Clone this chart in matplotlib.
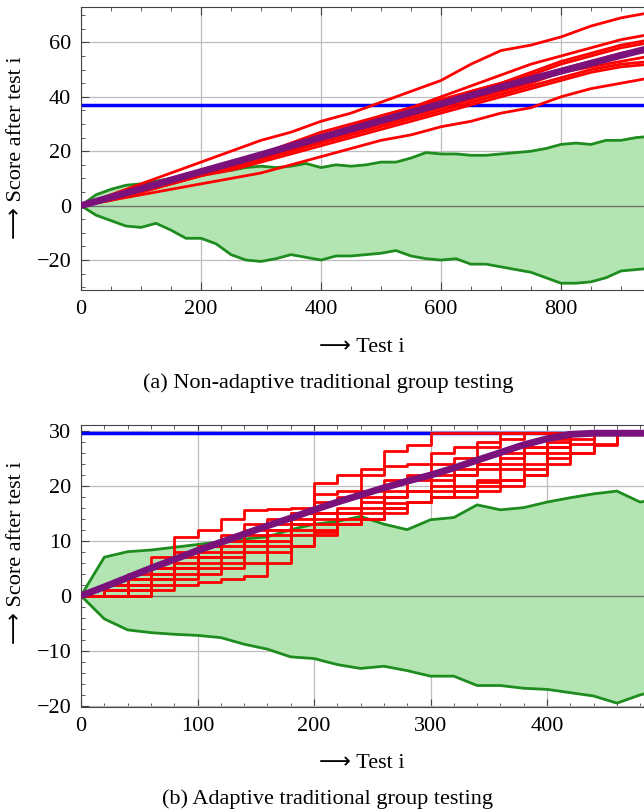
import matplotlib
matplotlib.use("Agg")
import matplotlib.pyplot as plt
from matplotlib.ticker import MultipleLocator, FixedLocator
import numpy as np

plt.rcParams['font.family'] = ['Liberation Serif', 'DejaVu Sans']
plt.rcParams['font.size'] = 16

# ---------------- (a) non-adaptive ----------------
xa = [0, 50, 100, 150, 200, 250, 300, 350, 400, 450, 500, 550, 600, 650, 700, 750, 800, 850, 900, 950]
reds_a = [
    [0, 4, 8, 12, 16, 20, 24, 27, 31, 34, 38, 42, 46, 52, 57, 59, 62, 66, 69, 71],
    [0, 3, 7, 10, 13, 16, 19, 23, 27, 30, 33, 36, 40, 44, 48, 52, 55, 58, 61, 63],
    [0, 3, 6, 10, 13, 16, 19, 22, 26, 29, 33, 36, 39, 42, 45, 49, 53, 56, 59, 61],
    [0, 3, 6, 9, 12, 15, 18, 22, 25, 28, 31, 35, 38, 42, 45, 48, 52, 55, 58, 60],
    [0, 3, 6, 9, 12, 15, 18, 21, 24, 28, 31, 34, 37, 40, 44, 47, 50, 53, 56, 58],
    [0, 3, 6, 9, 12, 14, 17, 20, 24, 27, 30, 33, 37, 40, 43, 46, 50, 53, 55, 57],
    [0, 3, 5, 8, 11, 14, 17, 21, 24, 27, 30, 33, 36, 39, 42, 45, 49, 51, 53, 55],
    [0, 2, 5, 8, 11, 14, 17, 20, 23, 26, 29, 32, 35, 38, 41, 44, 47, 50, 52, 53],
    [0, 2, 5, 8, 11, 13, 16, 19, 22, 25, 28, 31, 34, 37, 40, 43, 46, 49, 51, 52],
    [0, 2, 4, 6, 8, 10, 12, 15, 18, 21, 24, 26, 29, 31, 34, 36, 40, 43, 45, 47],
]
mean_a = [0, 3.1, 6.2, 9.4, 12.5, 15.6, 18.7, 21.9, 25, 28.1, 31.2, 34.3, 37.4,
          40.5, 43.6, 46.5, 49.4, 52.3, 55.2, 58]
xa_env = [0, 25, 50, 75, 100, 125, 150, 175, 200, 225, 250, 275, 300, 325, 350, 375,
          400, 425, 450, 475, 500, 525, 550, 575, 600, 625, 650, 675, 700, 725, 750,
          775, 800, 825, 850, 875, 900, 925, 950]
upper_a = [0, 4, 6, 7.5, 8, 9, 10, 11, 12, 12.5, 13, 14, 14.5, 14, 14.5, 15.5, 14, 15,
           14.5, 15, 16, 16, 17.5, 19.5, 19, 19, 18.5, 18.5, 19, 19.5, 20, 21, 22.5,
           23, 22.5, 24, 24, 25, 25.5]
lower_a = [0, -3.5, -5.5, -7.5, -8, -6.5, -9, -12, -12, -14, -18, -20, -20.5, -19.5,
           -18, -19, -20, -18.5, -18.5, -18, -17.5, -16.5, -18.5, -19.5, -20, -19.5,
           -21.5, -21.5, -22.5, -23.5, -24.5, -26.5, -28.5, -28.5, -28, -26.5, -24,
           -23.5, -23]
threshold_a = 37

# ---------------- (b) adaptive ----------------
xb = [0, 20, 40, 60, 80, 100, 120, 140, 160, 180, 200, 220, 240, 260, 280, 300, 320,
      340, 360, 380, 400, 420, 440, 460, 480, 500]
C = 29.5
reds_b = [
    [0, 2, 4, 7, 10.7, 12, 14, 15.5, 15.8, 16, 20.5, 22, 23, 26.2, 27.4, C, C, C, C, C, C, C, C, C, C, C],
    [0, 1, 3, 5, 8, 9, 11, 13, 14, 15, 18.5, 19, 22, 23.5, 24, 26, 27, 28, C, C, C, C, C, C, C, C],
    [0, 2, 3, 4, 7, 9, 10, 12, 13, 15, 17, 18, 19, 21, 22, 24, 25, 27, 28.5, C, C, C, C, C, C, C],
    [0, 0, 2, 5, 6, 8, 10, 11, 12, 14, 15, 16, 18, 19, 21, 22, 23, 24, 26, 27, 28.5, C, C, C, C, C],
    [0, 1, 2, 4, 5, 7, 9, 10, 12, 13, 15, 15, 17, 18, 19, 21, 22, 24, 25, 27, 28, C, C, C, C, C],
    [0, 2, 3, 3, 5, 7, 8, 10, 11, 13, 14, 15, 16, 18, 19, 20, 22, 23, 24, 26, 27, 28.5, C, C, C, C],
    [0, 1, 1, 3, 4, 6, 7, 9, 10, 12, 13, 14, 15, 16, 17, 19, 20, 21, 23, 24, 26, 27.5, C, C, C, C],
    [0, 0, 1, 3, 5, 5, 6, 8, 9, 11, 12, 13, 14, 15, 17, 18, 19, 20, 21, 23, 25, 26, 27.4, C, C, C],
    [0, 0, 0, 2, 3, 4, 5, 6, 8, 9, 11, 13, 14, 16, 17, 18, 18, 19, 20, 22, 24, 26, 27.5, C, C, C],
    [0, 0, 0, 1, 2, 2.5, 3, 3.5, 6, 9, 11.5, 13, 14, 16.8, 17, 18, 19, 20.7, 21, 22, 27, C, C, C, C, C],
]
mean_b = [0, 1.6, 3.3, 5, 6.6, 8.2, 9.7, 11.2, 12.7, 14.1, 15.6, 17, 18.3, 19.6, 20.8,
          21.9, 23.2, 24.6, 26, 27.4, 28.5, 29.3, C, C, C, C]
upper_b = [0, 7, 8, 8.3, 8.8, 9.3, 9.8, 10.3, 10.7, 12, 13, 13.5, 14.4, 13, 12, 13.8,
           14.2, 16.5, 15.6, 16, 17, 17.8, 18.5, 19, 17, 17.8]
lower_b = [0, -4.2, -6.2, -6.7, -7, -7.2, -7.6, -8.8, -9.7, -11.1, -11.4, -12.5, -13.2,
           -12.8, -13.6, -14.6, -14.6, -16.3, -16.3, -16.8, -17, -17.6, -18.2, -19.5,
           -18, -17]
threshold_b = 29.5

GREEN_FILL = '#b3e5b3'
GREEN = '#1e8c1e'
RED = '#ff0000'
PURPLE = '#7b117b'
BLUE = '#0000ff'


def draw_panel(ax, x, reds, mean, xe, up, lo, thr, step):
    ax.fill_between(xe, lo, up, color=GREEN_FILL, lw=0, zorder=1)
    ax.plot(xe, up, color=GREEN, lw=2, zorder=2)
    ax.plot(xe, lo, color=GREEN, lw=2, zorder=2)
    ax.axhline(0, color='#707070', lw=1, zorder=1.5)
    ax.axhline(thr, color=BLUE, lw=2.5, zorder=2.5)
    for r in reds:
        if step:
            ax.step(x, r, where='post', color=RED, lw=2, zorder=3)
        else:
            ax.plot(x, r, color=RED, lw=2, zorder=3)
    ax.plot(x, mean, color=PURPLE, lw=5, zorder=4, solid_capstyle='butt')
    ax.grid(True, which='major', color='#bdbdbd', lw=0.9, zorder=0)
    ax.set_axisbelow(True)
    ax.tick_params(which='both', direction='in', top=True, right=False, color='#444444')
    ax.tick_params(which='major', length=6, pad=7)
    ax.tick_params(which='minor', length=3)
    for s in ['left', 'bottom', 'top']:
        ax.spines[s].set_color('#444444')
    ax.spines['right'].set_visible(False)


fig = plt.figure(figsize=(6.44, 8.10), dpi=100)

ax1 = fig.add_axes([81 / 644, 1 - 290 / 810, 600 / 644, 283 / 810])
draw_panel(ax1, xa, reds_a, mean_a, xa_env, upper_a, lower_a, threshold_a, False)
ax1.set_xlim(0, 1000)
ax1.set_ylim(-31, 73)
ax1.xaxis.set_major_locator(FixedLocator([0, 200, 400, 600, 800]))
ax1.xaxis.set_minor_locator(MultipleLocator(50))
ax1.yaxis.set_major_locator(MultipleLocator(20))
ax1.yaxis.set_minor_locator(MultipleLocator(5))

ax2 = fig.add_axes([81 / 644, 1 - 707 / 810, 582.5 / 644, 282 / 810])
draw_panel(ax2, xb, reds_b, mean_b, xb, upper_b, lower_b, threshold_b, True)
ax2.set_xlim(0, 500)
ax2.set_ylim(-20.2, 31)
ax2.xaxis.set_major_locator(FixedLocator([0, 100, 200, 300, 400]))
ax2.xaxis.set_minor_locator(MultipleLocator(20))
ax2.yaxis.set_major_locator(MultipleLocator(10))
ax2.yaxis.set_minor_locator(MultipleLocator(2))

for yc in [148, 553]:
    fig.text(17 / 644, 1 - yc / 810, '⟶ Score after test i', rotation=90,
             ha='center', va='center', fontsize=16)

fig.text(362 / 644, 1 - 348 / 810, '⟶ Test i', ha='center', va='center', fontsize=16)
fig.text(328 / 644, 1 - 383 / 810, '(a) Non-adaptive traditional group testing',
         ha='center', va='center', fontsize=16)
fig.text(362 / 644, 1 - 764 / 810, '⟶ Test i', ha='center', va='center', fontsize=16)
fig.text(328 / 644, 1 - 799 / 810, '(b) Adaptive traditional group testing',
         ha='center', va='center', fontsize=16)

fig.savefig('out.png', dpi=100)
